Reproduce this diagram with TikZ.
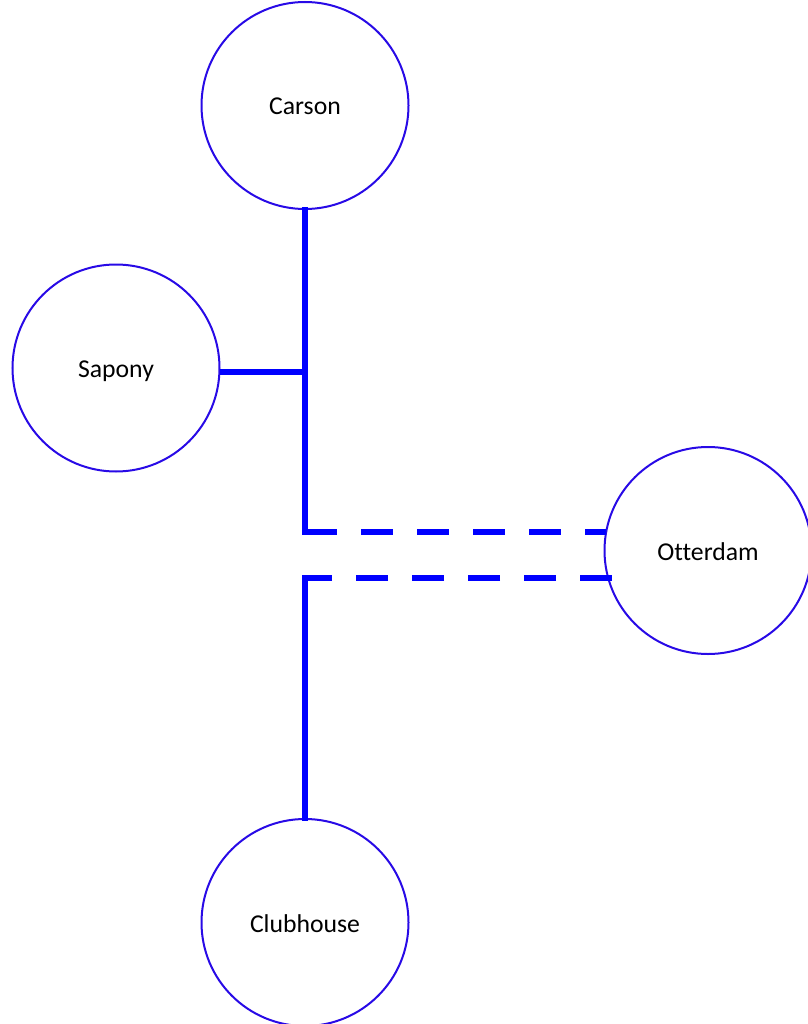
\documentclass[tikz,border=0pt]{standalone}
\usepackage{fontspec}
\setmainfont{Carlito}[Ligatures=NoCommon]
\definecolor{ringcol}{RGB}{40,10,230}
\definecolor{linkcol}{RGB}{0,0,255}
\begin{document}
\begin{tikzpicture}[x=1pt,y=1pt,
  town/.style={circle,draw=ringcol,line width=2pt,minimum size=207pt,inner sep=0pt,
    text height=19pt,text depth=0pt,font=\fontsize{25.7}{30}\selectfont},
  link/.style={draw=linkcol,line width=6pt},
  dlink/.style={link,dash pattern=on 32pt off 24pt}]
\useasboundingbox (0,0) rectangle (807,-1024);
\node[town] (car) at (305,-105.5) {Carson};
\node[town] (sap) at (116,-368) {Sapony};
\node[town] (ott) at (708,-550.5) {Otterdam};
\node[town] (club) at (305,-922.5) {Clubhouse};
\coordinate (c1) at (305,-532);
\coordinate (c2) at (305,-578);
\coordinate (s1) at (305,-372);
\coordinate (s0) at (220,-372);
\coordinate (o1) at (606,-532);
\coordinate (o2) at (612,-578);
\draw[link,line cap=rect] (car.south) -- (c1);
\draw[link] (s0) -- (s1);
\draw[dlink] (c1) -- (o1);
\draw[dlink] (o2) -- (c2);
\draw[link,line cap=rect] (c2) -- (club.north);
\end{tikzpicture}
\end{document}
